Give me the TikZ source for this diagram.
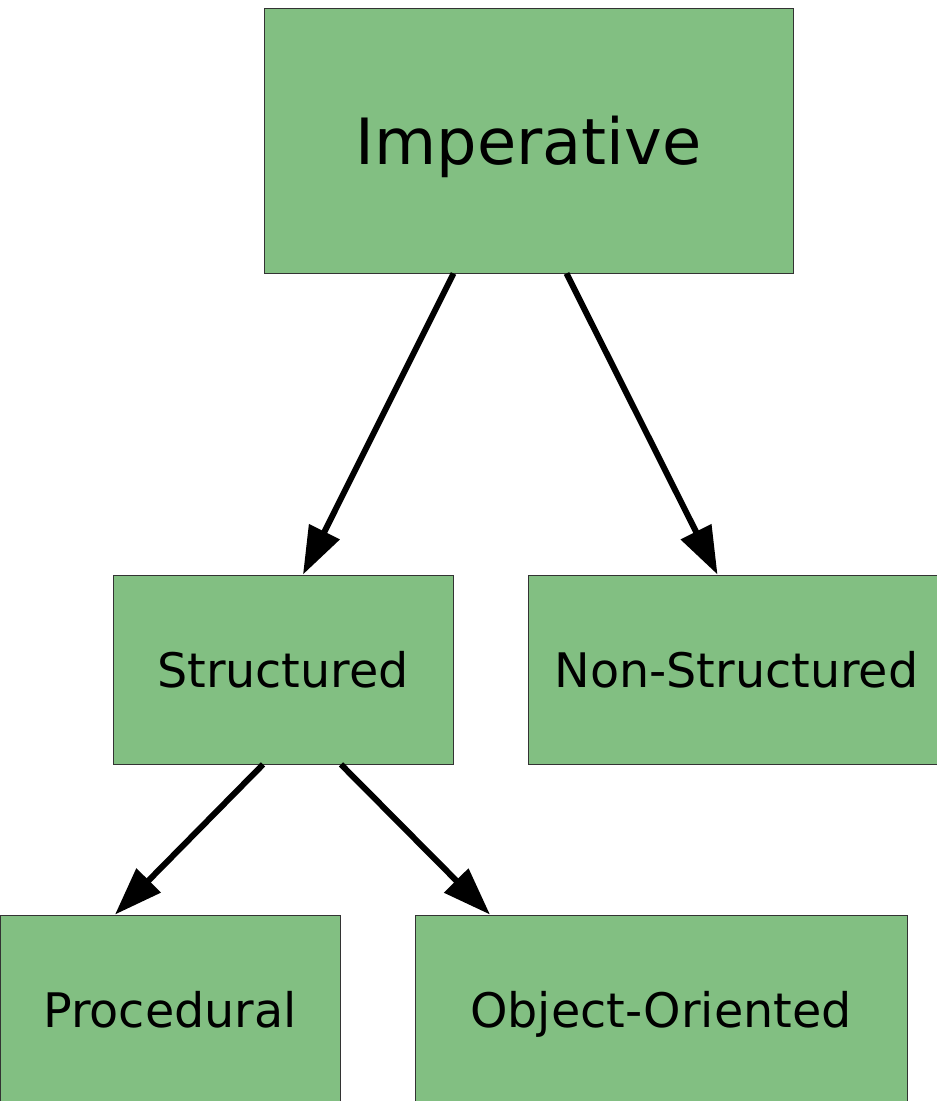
\documentclass[tikz,border=0pt]{standalone}
\usepackage{fontspec}
\setmainfont{DejaVu Sans}
\usepackage{tikz}
\usetikzlibrary{arrows.meta}

\definecolor{boxgreen}{RGB}{130,191,130}

\tikzset{
  catbox/.style={draw=black!80, line width=0.9pt, fill=boxgreen, inner sep=0pt,
    minimum height=189pt, text height=35pt, text depth=-2pt,
    font=\fontsize{47.6}{56}\selectfont},
  isa/.style={line width=6pt, -{Triangle[length=48pt,width=33pt]}}
}

\begin{document}
\begin{tikzpicture}[x=1pt,y=1pt,yscale=-1,xscale=1]
        \useasboundingbox (0,0) rectangle (937,1101);
        \clip (0,0) rectangle (937,1101);
        % top level
        \node [catbox, minimum width=529pt, minimum height=265pt, text height=47pt, text depth=-3pt,
               font=\fontsize{63.8}{76}\selectfont] (imp) at (528.5,140.5) {Imperative};
        % second level
        \node [catbox, minimum width=340pt] (str) at (283,669.5) {Structured};
        \node [catbox, minimum width=417pt] (nonstr) at (736.5,669.5) {Non-Structured};
        % third level
        \node [catbox, minimum width=340pt] (proc) at (170,1009.5) {Procedural};
        \node [catbox, minimum width=492pt] (oo) at (661,1009.5) {Object-Oriented};
        % Arrows
        \draw [isa] ([xshift=-75pt]imp.south) -- ([xshift=20pt]str.north);
        \draw [isa] ([xshift=38pt]imp.south) -- ([xshift=-19pt]nonstr.north);
        \draw [isa] ([xshift=-20pt]str.south) -- ([xshift=-55pt]proc.north);
        \draw [isa] ([xshift=58pt]str.south) -- ([xshift=-171pt]oo.north);
\end{tikzpicture}
\end{document}
